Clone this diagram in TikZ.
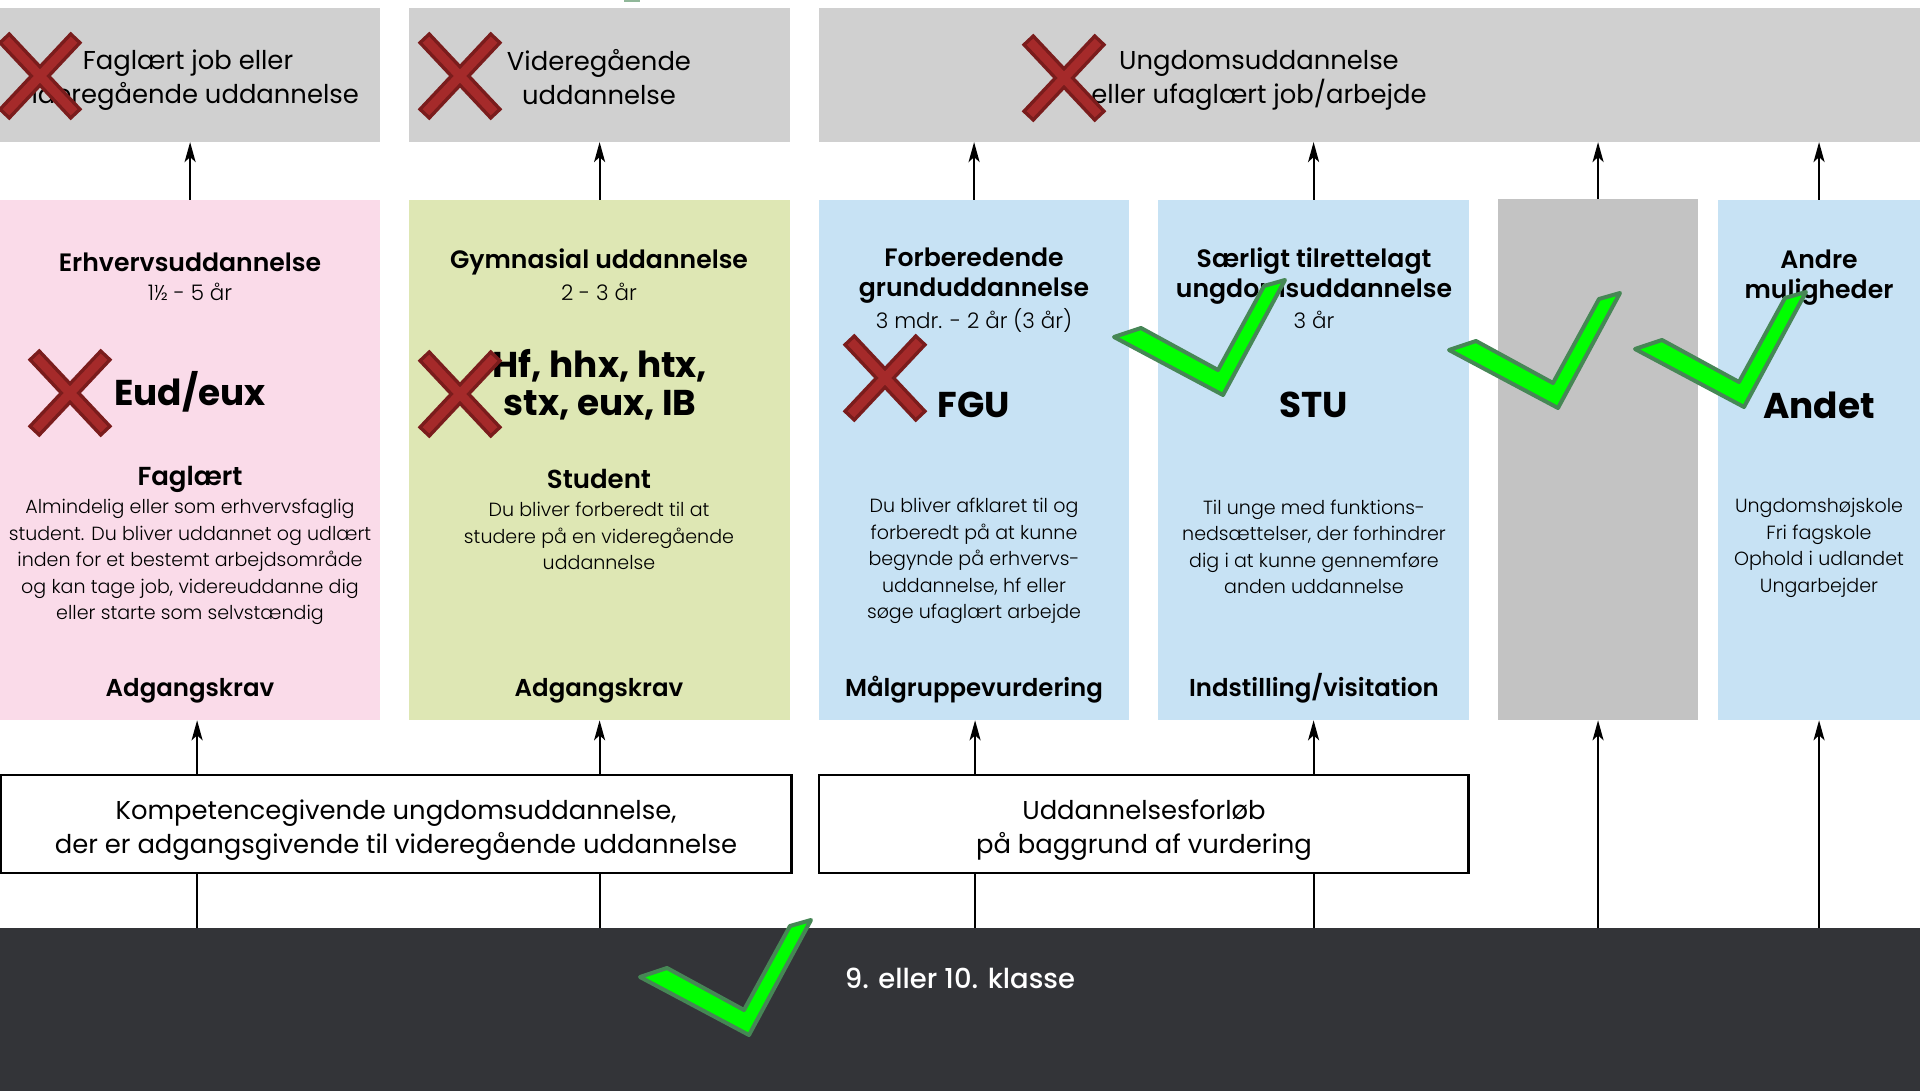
\documentclass[tikz,border=0pt]{standalone}
\usepackage{fontspec}
\setmainfont{Poppins}
\newfontfamily\plight{Poppins Light}
\newfontfamily\psemi{Poppins SemiBold}
\newfontfamily\pmed{Poppins Medium}
\usetikzlibrary{arrows.meta,calc}
\definecolor{topgray}{HTML}{D0D0D0}
\definecolor{colgray}{HTML}{C3C3C3}
\definecolor{pinkc}{HTML}{FADBE9}
\definecolor{greenc}{HTML}{DEE7B4}
\definecolor{bluec}{HTML}{C7E2F4}
\definecolor{darkbar}{HTML}{333438}
\definecolor{chkfill}{HTML}{00FF00}
\definecolor{chkline}{HTML}{468755}
\definecolor{xred}{HTML}{A52A2A}
\definecolor{xdark}{HTML}{7A1C1C}
\tikzset{
  box/.style={inner sep=0pt, outer sep=0pt, anchor=north west, draw=none},
  midbox/.style={inner sep=0pt, outer sep=0pt, anchor=north west, draw=black, line width=0.025cm, fill=white},
  arr/.style={line width=0.6pt, -{Stealth[length=0.2cm, width=0.11cm, inset=0.05cm]}},
  ln/.style={line width=0.6pt},
  txt/.style={inner sep=0pt, align=center, anchor=center},
  lbl/.style={txt, font=\fontsize{7.35pt}{9.7pt}\selectfont},
  hdr/.style={txt, font=\psemi\fontsize{7.15pt}{8.6pt}\selectfont},
  foot/.style={txt, font=\psemi\fontsize{6.95pt}{8.6pt}\selectfont},
  subt/.style={txt, font=\plight\fontsize{6.1pt}{7pt}\selectfont},
  big/.style={txt, font=\bfseries\fontsize{10.2pt}{10.8pt}\selectfont},
  bodyt/.style={txt, font=\plight\fontsize{5.42pt}{7.55pt}\selectfont},
  chk/.style={fill=chkfill, draw=chkline, line width=0.04cm, line join=round},
  xout/.style={draw=xdark, line width=0.16cm, line cap=rect},
  xin/.style={draw=xred, line width=0.09cm, line cap=rect}
}
\newcommand\greencheck[1]{\draw[chk, shift={#1}] (0,0) -- (-109,-58) -- (-82,-67) -- (-5,-25) -- (41,-109) -- (62,-115) -- cycle;}
\newcommand\redcross[1]{%
  \draw[xout, shift={#1}] (-31,-33) -- (31,33) (-31,33) -- (31,-33);
  \draw[xin, shift={#1}] (-31,-33) -- (31,33) (-31,33) -- (31,-33);}
\begin{document}
\begin{tikzpicture}[x=0.01cm, y=-0.01cm]
\useasboundingbox (0,0) rectangle (1920,1091);
\fill[white] (0,0) rectangle (1920,1091);
% top boxes
\node[box, fill=topgray, minimum width=3.80cm, minimum height=1.34cm] (t1) at (0,8) {};
\node[box, fill=topgray, minimum width=3.81cm, minimum height=1.34cm] (t2) at (409,8) {};
\node[box, fill=topgray, minimum width=11.01cm, minimum height=1.34cm] (t3) at (819,8) {};
% columns
\node[box, fill=pinkc, minimum width=3.80cm, minimum height=5.20cm] (c1) at (0,200) {};
\node[box, fill=greenc, minimum width=3.81cm, minimum height=5.20cm] (c2) at (409,200) {};
\node[box, fill=bluec, minimum width=3.10cm, minimum height=5.20cm] (c3) at (819,200) {};
\node[box, fill=bluec, minimum width=3.11cm, minimum height=5.20cm] (c4) at (1158,200) {};
\node[box, fill=colgray, minimum width=2.00cm, minimum height=5.21cm] (c5) at (1498,199) {};
\node[box, fill=bluec, minimum width=2.02cm, minimum height=5.20cm] (c6) at (1718,200) {};
% middle boxes
\node[midbox, minimum width=7.90cm, minimum height=0.98cm] (mA) at (1,775) {};
\node[midbox, minimum width=6.49cm, minimum height=0.98cm] (mB) at (819,775) {};
% bottom bar
\node[box, fill=darkbar, minimum width=19.20cm, minimum height=1.63cm] (bar) at (0,928) {};
% tiny green sliver at the top
\fill[chkline!60!white] (624,0) rectangle (640,2);
% arrows to top boxes
\draw[arr] (c1.north) -- (c1.north |- t1.south);
\draw[arr] (c2.north) -- (c2.north |- t2.south);
\draw[arr] (c3.north) -- (c3.north |- t3.south);
\draw[arr] (c4.north) -- (c4.north |- t3.south);
\draw[arr] (c5.north) -- (c5.north |- t3.south);
\draw[arr] (c6.north) -- (c6.north |- t3.south);
% arrows from middle boxes / bar to columns
\coordinate (k1) at ($(c1.south)+(7,0)$);
\coordinate (k2) at (c2.south);
\coordinate (k3) at ($(c3.south)+(1,0)$);
\coordinate (k4) at (c4.south);
\draw[arr] (k1 |- mA.north) -- (k1);
\draw[arr] (k2 |- mA.north) -- (k2);
\draw[arr] (k3 |- mB.north) -- (k3);
\draw[arr] (k4 |- mB.north) -- (k4);
\draw[ln] (k1 |- bar.north) -- (k1 |- mA.south);
\draw[ln] (k2 |- bar.north) -- (k2 |- mA.south);
\draw[ln] (k3 |- bar.north) -- (k3 |- mB.south);
\draw[ln] (k4 |- bar.north) -- (k4 |- mB.south);
\draw[arr] (c5.south |- bar.north) -- (c5.south);
\draw[arr] (c6.south |- bar.north) -- (c6.south);
% top texts
\node[lbl] (tt1) at (188,80) {Faglært job eller\\videregående uddannelse};
\node[lbl] (tt2) at (599,77) {Videregående\\uddannelse};
\node[lbl] (tt3) at (1259,80) {Ungdomsuddannelse\\eller ufaglært job/arbejde};
% column 1
\node[hdr] (h1) at (190,262) {Erhvervsuddannelse};
\node[subt] (s1) at (190,292) {1½ - 5 år};
\node[big] (g1) at (190,392) {Eud/eux};
\node[hdr, font=\psemi\fontsize{7.4pt}{8.6pt}\selectfont] (f1) at (190,479) {Faglært};
\node[bodyt] (b1) at (190,562) {Almindelig eller som erhvervsfaglig\\student. Du bliver uddannet og udlært\\inden for et bestemt arbejdsområde\\og kan tage job, videreuddanne dig\\eller starte som selvstændig};
\node[foot] (a1) at (190,691) {Adgangskrav};
% column 2
\node[hdr] (h2) at (599,262) {Gymnasial uddannelse};
\node[subt] (s2) at (599,292) {2 - 3 år};
\node[big] (g2) at (600,385) {Hf, hhx, htx,\\stx, eux, IB};
\node[hdr, font=\psemi\fontsize{7.4pt}{8.6pt}\selectfont] (f2) at (599,479) {Student};
\node[bodyt] (b2) at (599,536) {Du bliver forberedt til at\\studere på en videregående\\uddannelse};
\node[foot] (a2) at (599,691) {Adgangskrav};
% column 3
\node[hdr] (h3) at (974,276) {Forberedende\\grunduddannelse};
\node[subt] (s3) at (974,320) {3 mdr. - 2 år (3 år)};
\node[big] (g3) at (974,405) {FGU};
\node[bodyt] (b3) at (974,561) {Du bliver afklaret til og\\forberedt på at kunne\\begynde på erhvervs-\\uddannelse, hf eller\\søge ufaglært arbejde};
\node[foot] (a3) at (974,690) {Målgruppevurdering};
% column 4
\node[hdr] (h4) at (1314,276) {Særligt tilrettelagt\\ungdomsuddannelse};
\node[subt] (s4) at (1314,320) {3 år};
\node[big] (g4) at (1314,405) {STU};
\node[bodyt] (b4) at (1314,547) {Til unge med funktions-\\nedsættelser, der forhindrer\\dig i at kunne gennemføre\\anden uddannelse};
\node[foot] (a4) at (1314,688) {Indstilling/visitation};
% column 6
\node[hdr] (h6) at (1819,278) {Andre\\muligheder};
\node[big] (g6) at (1819,405) {Andet};
\node[bodyt] (b6) at (1819,548) {Ungdomshøjskole\\Fri fagskole\\Ophold i udlandet\\Ungarbejder};
% middle texts
\node[lbl] (mtA) at (396,830) {Kompetencegivende ungdomsuddannelse,\\der er adgangsgivende til videregående uddannelse};
\node[lbl] (mtB) at (1144,830) {Uddannelsesforløb\\på baggrund af vurdering};
% bar text
\node[txt, font=\pmed\fontsize{7.8pt}{9pt}\selectfont, text=white] (bt) at (960,978) {9. eller 10. klasse};
% red crosses
\redcross{(40,76)}
\redcross{(460,76)}
\redcross{(1064,78)}
\redcross{(70,393)}
\redcross{(460,394)}
\redcross{(885,378)}
% green checks
\greencheck{(749,1035)}
\greencheck{(1223,395)}
\greencheck{(1558,408)}
\greencheck{(1744,407)}
\end{tikzpicture}
\end{document}
